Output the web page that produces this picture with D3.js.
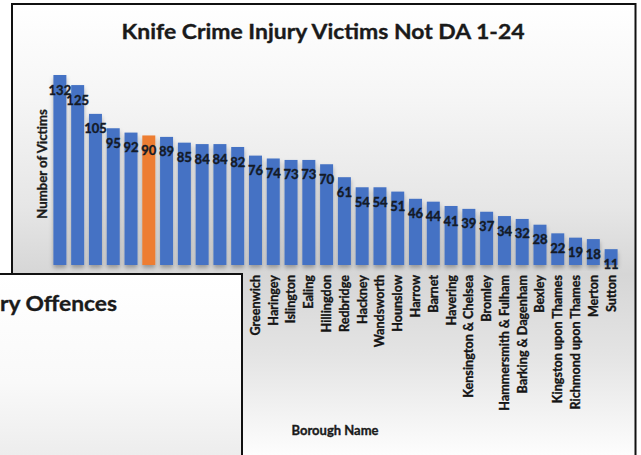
<!DOCTYPE html>
<html>
<head>
<meta charset="utf-8">
<script src="https://cdn.jsdelivr.net/npm/d3@7"></script>
<style>
  html, body { margin: 0; padding: 0; background: #ffffff; }
  svg { display: block; font-family: Lato, "Open Sans", sans-serif; }
</style>
</head>
<body>
<svg id="chart" width="641" height="455"></svg>
<script>
const categories = ["Lambeth","Southwark","Newham","Croydon","Tower Hamlets","Westminster","Enfield","Brent","Lewisham","Waltham Forest","Camden","Greenwich","Haringey","Islington","Ealing","Hillingdon","Redbridge","Hackney","Wandsworth","Hounslow","Harrow","Barnet","Havering","Kensington & Chelsea","Bromley","Hammersmith & Fulham","Barking & Dagenham","Bexley","Kingston upon Thames","Richmond upon Thames","Merton","Sutton"];
const values = [132,125,105,95,92,90,89,85,84,84,82,76,74,73,73,70,61,54,54,51,46,44,41,39,37,34,32,28,22,19,18,11];
const highlighted = ["Westminster"];
const chartTitle = ["Knife Crime Injury Victims Not DA 1-24"];
const axisTitles = ["Number of Victims", "Borough Name"];
const overlayTitle = ["ry Offences"];
const yDomain = [0, 140];

const svg = d3.select("#chart");
const defs = svg.append("defs");

const bg = defs.append("linearGradient").attr("id","bg")
  .attr("gradientUnits","userSpaceOnUse").attr("x1",0).attr("y1",4).attr("x2",0).attr("y2",455);
[[0,"#ffffff"],[0.2,"#f6f6f6"],[0.45,"#e6e6e6"],[0.6,"#d6d6d6"],[0.78,"#e4e4e4"],[1,"#fdfdfd"]]
  .forEach(([o,c]) => bg.append("stop").attr("offset",o).attr("stop-color",c));

const bg2 = defs.append("linearGradient").attr("id","bg2")
  .attr("gradientUnits","userSpaceOnUse").attr("x1",0).attr("y1",274).attr("x2",0).attr("y2",455);
[[0,"#ffffff"],[0.6,"#f9f9f9"],[1,"#ededed"]]
  .forEach(([o,c]) => bg2.append("stop").attr("offset",o).attr("stop-color",c));

const sh = defs.append("filter").attr("id","shadow").attr("x","-50%").attr("y","-10%").attr("width","200%").attr("height","130%");
sh.append("feDropShadow").attr("dx",0).attr("dy",3).attr("stdDeviation",2)
  .attr("flood-color","#000").attr("flood-opacity",0.3);

// main chart frame
svg.append("rect").attr("x",12).attr("y",4).attr("width",623.5).attr("height",470)
  .attr("fill","url(#bg)").attr("stroke","#111").attr("stroke-width",2);

const x = d3.scaleBand().domain(categories).range([51, 620]).paddingInner(0.27).paddingOuter(0.135);
const y = d3.scaleLinear().domain(yDomain).range([265, 63.5]);

const heavy = sel => sel.attr("font-weight","bold").attr("stroke-width",0.35).attr("paint-order","stroke");

// title
svg.append("text").attr("x",323).attr("y",39).attr("text-anchor","middle")
  .attr("font-size",21).attr("fill","#1a1a1a").attr("stroke","#1a1a1a")
  .attr("textLength",403).attr("lengthAdjust","spacingAndGlyphs")
  .call(heavy)
  .text(chartTitle[0]);

// bars
svg.append("g").selectAll("rect").data(values).join("rect")
  .attr("x",(d,i)=>x(categories[i]))
  .attr("y",d=>y(d))
  .attr("width",x.bandwidth())
  .attr("height",d=>y(0)-y(d))
  .attr("fill",(d,i)=>highlighted.includes(categories[i]) ? "#ed7d31" : "#4472c4")
  .attr("filter","url(#shadow)");

// data labels
svg.append("g").selectAll("text").data(values).join("text")
  .attr("x",(d,i)=>x(categories[i])+x.bandwidth()/2)
  .attr("y",d=>y(d)+15)
  .attr("dy","0.35em")
  .attr("text-anchor","middle")
  .attr("font-size",13).attr("fill","#141a26").attr("stroke","#141a26")
  .call(heavy)
  .text(d=>d);

// x axis labels
const xAxis = d3.axisBottom(x).tickSize(0).tickPadding(0);
const gx = svg.append("g").attr("transform","translate(0,265)").call(xAxis);
gx.select(".domain").remove();
gx.selectAll("text")
  .attr("transform","rotate(-90)")
  .attr("x",-10).attr("y",0).attr("dy","0.35em")
  .attr("text-anchor","end")
  .attr("font-family","Lato, 'Open Sans', sans-serif")
  .attr("font-size",12.6).attr("fill","#141414").attr("stroke","#141414")
  .call(heavy);

// axis titles
svg.append("text").attr("transform","translate(42,164) rotate(-90)")
  .attr("dy","0.35em")
  .attr("text-anchor","middle").attr("font-size",13.2).attr("fill","#1a1a1a").attr("stroke","#1a1a1a")
  .call(heavy)
  .text(axisTitles[0]);
svg.append("text").attr("x",335).attr("y",435).attr("text-anchor","middle")
  .attr("font-size",13).attr("fill","#1a1a1a").attr("stroke","#1a1a1a")
  .call(heavy)
  .text(axisTitles[1]);

// overlay of a second chart
svg.append("rect").attr("x",-10).attr("y",274).attr("width",252).attr("height",200)
  .attr("fill","url(#bg2)").attr("stroke","#111").attr("stroke-width",2);
svg.append("text").attr("x",0).attr("y",311).attr("text-anchor","start")
  .attr("font-size",21).attr("fill","#1a1a1a").attr("stroke","#1a1a1a")
  .attr("textLength",117).attr("lengthAdjust","spacingAndGlyphs")
  .call(heavy)
  .text(overlayTitle[0]);
</script>
</body>
</html>
